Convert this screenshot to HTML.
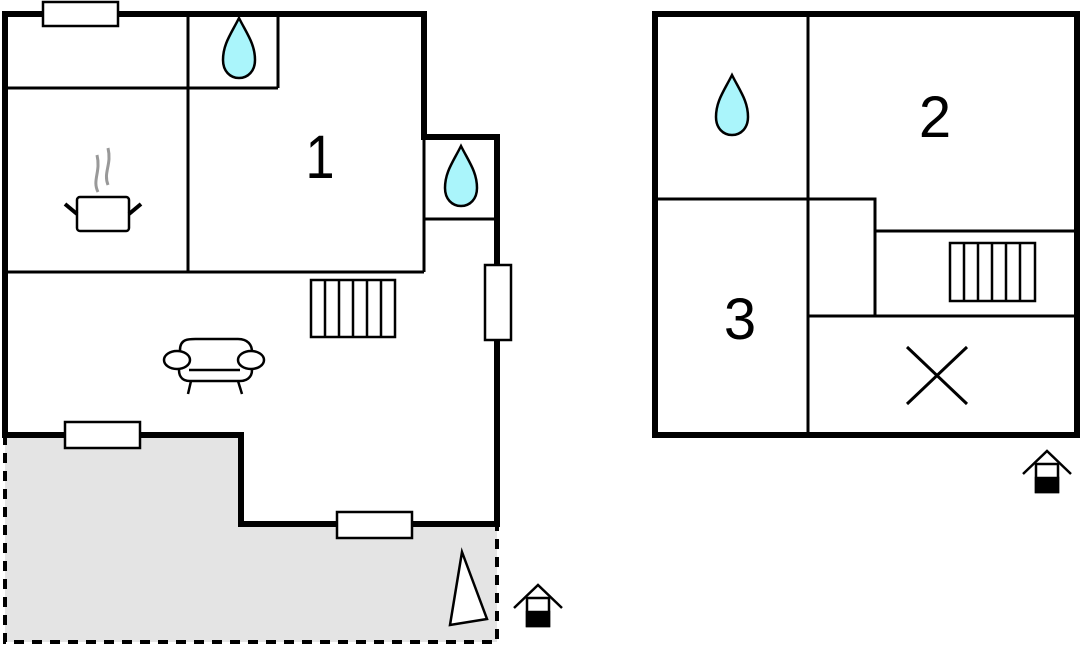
<!DOCTYPE html>
<html><head><meta charset="utf-8"><style>html,body{margin:0;padding:0;background:#fff}svg{display:block}</style></head><body>
<svg width="1080" height="646" viewBox="0 0 1080 646" xmlns="http://www.w3.org/2000/svg">
<defs>
<g id="drop"><path d="M0,-32 C8,-16 16,-6 16,10 C16,21 9,28 0,28 C-9,28 -16,21 -16,10 C-16,-6 -8,-16 0,-32Z" fill="#aaf5fb" stroke="#000" stroke-width="2.5"/></g>
<g id="house" fill="none" stroke="#000" stroke-width="2.5"><path d="M-24,0 L0,-23 L24,0"/><rect x="-11" y="-10" width="22" height="28" fill="#fff"/><rect x="-11" y="4" width="22" height="14" fill="#000"/></g>
</defs>
<polygon points="5,435 241,435 241,524 497,524 497,642 5,642" fill="#e4e4e4"/>
<path d="M5,435 V642 H497 V524" fill="none" stroke="#000" stroke-width="4" stroke-dasharray="10,8"/>
<g stroke="#000" stroke-width="3" fill="none">
<line x1="5" y1="88" x2="278" y2="88"/>
<line x1="188" y1="14" x2="188" y2="272"/>
<line x1="278" y1="14" x2="278" y2="88"/>
<line x1="5" y1="272" x2="424" y2="272"/>
<line x1="424" y1="137" x2="424" y2="272"/>
<line x1="424" y1="219" x2="497" y2="219"/>
</g>
<path d="M5,435 V14 H424 V137 H497 V524 H241 V435 Z" fill="none" stroke="#000" stroke-width="6"/>
<g fill="#fff" stroke="#000" stroke-width="2.5">
<rect x="43" y="2" width="75" height="24"/>
<rect x="485" y="265" width="26" height="75"/>
<rect x="65" y="422" width="75" height="26"/>
<rect x="337" y="512" width="75" height="26"/>
</g>
<use href="#drop" x="239" y="50"/>
<use href="#drop" x="461" y="178"/>
<text x="320" y="178" font-family="Liberation Sans, sans-serif" font-size="58" text-anchor="middle" transform="translate(320 178) scale(0.9 1.05) translate(-320 -178)">1</text>
<g stroke="#000" stroke-width="2.5" fill="none">
<rect x="77" y="197" width="52" height="34" rx="3" fill="#fff"/>
<line x1="65" y1="204" x2="77" y2="214" stroke-width="4"/>
<line x1="141" y1="204" x2="129" y2="214" stroke-width="4"/>
<path d="M98,192 C92,180 101,172 97,155" stroke="#999" stroke-width="3"/>
<path d="M108,185 C103,172 112,165 108,148" stroke="#999" stroke-width="3"/>
</g>
<g stroke="#000" stroke-width="2.5" fill="#fff">
<rect x="311" y="280" width="84" height="57"/>
<path d="M325,280V337M339,280V337M353,280V337M367,280V337M381,280V337" fill="none"/>
</g>
<g stroke="#000" stroke-width="2.5" fill="#fff">
<path d="M180,350 C180,338 190,339 198,339 H238 C248,339 252,345 252,352 V370 C252,378 246,381 240,381 H190 C184,381 179,378 179,370 Z"/>
<ellipse cx="177" cy="360" rx="13" ry="9"/>
<ellipse cx="251" cy="360" rx="13" ry="9"/>
<line x1="189" y1="370" x2="240" y2="370"/>
<line x1="191" y1="381" x2="188" y2="394"/>
<line x1="238" y1="381" x2="242" y2="394"/>
</g>
<polygon points="462,552 487,619 450,625" fill="#fff" stroke="#000" stroke-width="2.5"/>
<use href="#house" x="538" y="608"/>
<g stroke="#000" stroke-width="3" fill="none">
<line x1="808" y1="14" x2="808" y2="435"/>
<line x1="655" y1="199" x2="808" y2="199"/>
<path d="M808,199 H875 V316"/>
<line x1="875" y1="231" x2="1077" y2="231"/>
<line x1="808" y1="316" x2="1077" y2="316"/>
<line x1="907" y1="347" x2="967" y2="404"/>
<line x1="967" y1="347" x2="907" y2="404"/>
</g>
<rect x="655" y="14" width="422" height="421" fill="none" stroke="#000" stroke-width="6"/>
<g stroke="#000" stroke-width="2.5" fill="#fff">
<rect x="950" y="243" width="85" height="58"/>
<path d="M964,243V301M978,243V301M992,243V301M1006,243V301M1020,243V301" fill="none"/>
</g>
<use href="#drop" x="732" y="107"/>
<text x="935" y="137" font-family="Liberation Sans, sans-serif" font-size="58" text-anchor="middle">2</text>
<text x="740" y="339" font-family="Liberation Sans, sans-serif" font-size="58" text-anchor="middle">3</text>
<use href="#house" x="1047" y="474"/>
</svg>
</body></html>
